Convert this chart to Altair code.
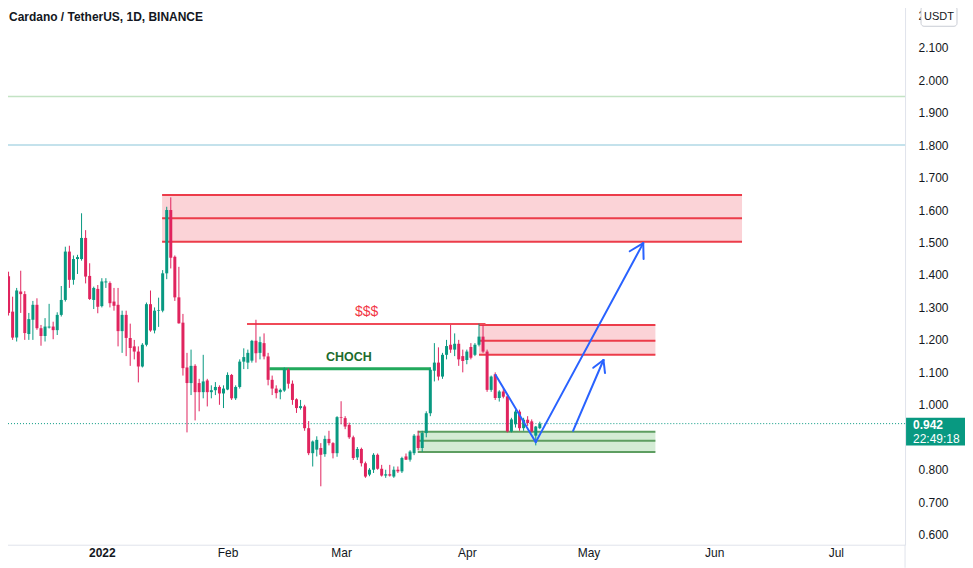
import altair as alt
import pandas as pd

# ---------------- data ----------------
start_date = "2021-12-09"
opens = [1.396, 1.287, 1.207, 1.349, 1.341, 1.218, 1.262, 1.308, 1.236, 1.212,
         1.238, 1.241, 1.230, 1.277, 1.323, 1.472, 1.385, 1.449, 1.449, 1.514,
         1.397, 1.323, 1.357, 1.304, 1.377, 1.375, 1.318, 1.308, 1.227, 1.277,
         1.206, 1.180, 1.164, 1.118, 1.185, 1.310, 1.229, 1.290, 1.290, 1.405,
         1.600, 1.456, 1.331, 1.253, 1.115, 1.067, 1.120, 1.067, 1.039, 1.075,
         1.039, 1.045, 1.055, 1.035, 1.047, 1.092, 1.020, 1.055, 1.133, 1.130,
         1.136, 1.197, 1.160, 1.190, 1.149, 1.077, 1.050, 1.039, 1.044, 1.108,
         1.065, 1.017, 0.990, 0.995, 0.928, 0.851, 0.862, 0.867, 0.848, 0.895,
         0.882, 0.851, 0.962, 0.959, 0.938, 0.900, 0.838, 0.864, 0.820, 0.785,
         0.800, 0.846, 0.803, 0.782, 0.786, 0.779, 0.800, 0.795, 0.841, 0.831,
         0.851, 0.905, 0.867, 0.913, 0.974, 1.105, 1.130, 1.087, 1.154, 1.185,
         1.170, 1.188, 1.150, 1.138, 1.178, 1.154, 1.185, 1.210, 1.164, 1.046,
         1.094, 1.021, 1.041, 1.026, 0.918, 0.940, 0.979, 0.928, 0.954, 0.949,
         0.905, 0.928]
highs = [1.410, 1.333, 1.360, 1.413, 1.350, 1.283, 1.320, 1.328, 1.246, 1.267,
         1.311, 1.256, 1.285, 1.366, 1.487, 1.490, 1.460, 1.462, 1.590, 1.538,
         1.436, 1.364, 1.369, 1.390, 1.390, 1.380, 1.360, 1.360, 1.290, 1.290,
         1.250, 1.200, 1.180, 1.190, 1.315, 1.352, 1.300, 1.330, 1.415, 1.610,
         1.639, 1.460, 1.425, 1.280, 1.160, 1.170, 1.125, 1.080, 1.154, 1.080,
         1.060, 1.070, 1.060, 1.060, 1.100, 1.095, 1.060, 1.140, 1.174, 1.170,
         1.200, 1.262, 1.210, 1.220, 1.160, 1.090, 1.060, 1.050, 1.115, 1.112,
         1.075, 1.020, 1.015, 1.000, 0.950, 0.890, 0.903, 0.882, 0.905, 0.920,
         0.885, 0.965, 1.011, 0.965, 0.945, 0.905, 0.870, 0.868, 0.825, 0.805,
         0.851, 0.850, 0.815, 0.800, 0.815, 0.810, 0.810, 0.840, 0.850, 0.860,
         0.910, 0.920, 0.920, 0.980, 1.115, 1.190, 1.177, 1.160, 1.200, 1.246,
         1.220, 1.200, 1.170, 1.170, 1.190, 1.190, 1.250, 1.246, 1.170, 1.090,
         1.100, 1.045, 1.050, 1.030, 0.960, 0.985, 0.985, 0.960, 0.965, 0.955,
         0.935, 0.948]
lows = [1.275, 1.200, 1.195, 1.283, 1.200, 1.200, 1.200, 1.231, 1.182, 1.195,
        1.235, 1.202, 1.215, 1.272, 1.318, 1.360, 1.370, 1.403, 1.444, 1.374,
        1.323, 1.295, 1.282, 1.300, 1.360, 1.300, 1.290, 1.180, 1.160, 1.150,
        1.120, 1.140, 1.069, 1.115, 1.180, 1.225, 1.220, 1.240, 1.285, 1.387,
        1.420, 1.320, 1.250, 1.090, 0.915, 1.030, 0.952, 0.980, 1.020, 0.995,
        1.020, 1.030, 1.000, 0.990, 1.045, 1.015, 1.015, 1.050, 1.110, 1.110,
        1.130, 1.130, 1.140, 1.140, 1.060, 1.030, 1.020, 1.017, 1.040, 1.050,
        1.000, 0.975, 0.985, 0.920, 0.845, 0.810, 0.841, 0.749, 0.840, 0.875,
        0.835, 0.840, 0.940, 0.925, 0.895, 0.830, 0.830, 0.810, 0.775, 0.780,
        0.790, 0.800, 0.779, 0.775, 0.779, 0.775, 0.790, 0.790, 0.830, 0.825,
        0.845, 0.860, 0.855, 0.900, 0.965, 1.072, 1.075, 1.080, 1.140, 1.160,
        1.150, 1.120, 1.100, 1.125, 1.140, 1.150, 1.180, 1.160, 1.040, 1.040,
        1.015, 1.010, 1.020, 0.915, 0.915, 0.930, 0.920, 0.920, 0.935, 0.915,
        0.875, 0.925]
closes = [1.283, 1.207, 1.352, 1.341, 1.221, 1.264, 1.308, 1.236, 1.212, 1.241,
          1.241, 1.230, 1.277, 1.323, 1.472, 1.385, 1.449, 1.455, 1.514, 1.395,
          1.326, 1.360, 1.302, 1.380, 1.380, 1.313, 1.305, 1.227, 1.277, 1.206,
          1.175, 1.164, 1.118, 1.185, 1.310, 1.229, 1.290, 1.292, 1.405, 1.600,
          1.453, 1.331, 1.251, 1.113, 1.067, 1.120, 1.039, 1.039, 1.072, 1.039,
          1.045, 1.055, 1.035, 1.050, 1.092, 1.020, 1.055, 1.133, 1.147, 1.160,
          1.197, 1.159, 1.193, 1.149, 1.077, 1.050, 1.036, 1.046, 1.108, 1.065,
          1.015, 0.990, 0.996, 0.928, 0.851, 0.887, 0.892, 0.846, 0.895, 0.882,
          0.851, 0.962, 0.960, 0.933, 0.900, 0.836, 0.864, 0.820, 0.779, 0.800,
          0.846, 0.803, 0.782, 0.786, 0.782, 0.800, 0.795, 0.836, 0.831, 0.856,
          0.905, 0.867, 0.913, 0.974, 1.108, 1.130, 1.087, 1.154, 1.181, 1.170,
          1.188, 1.140, 1.135, 1.164, 1.145, 1.185, 1.210, 1.164, 1.046, 1.087,
          1.021, 1.041, 1.025, 0.918, 0.955, 0.979, 0.928, 0.954, 0.944, 0.918,
          0.933, 0.942]

# time axis labels
month_dates = ["2022-01-01", "2022-02-01", "2022-03-01", "2022-04-01",
               "2022-05-01", "2022-06-01", "2022-07-01"]
month_labels = ["2022", "Feb", "Mar", "Apr", "May", "Jun", "Jul"]
# price axis labels (0.900 is hidden behind the last-price tag; 2.200 is cut to "2" by the unit tag)
price_ticks = [0.6, 0.7, 0.8, 1.0, 1.1, 1.2, 1.3, 1.4, 1.5, 1.6, 1.7,
               1.8, 1.9, 2.0, 2.1, 2.2]
top_tick_text = "2"

# visible range (days since start_date, price)
view_days = [-0.63, 219.83]
view_prices = [0.569, 2.246]

# zones (days since start, price levels)
zone_kind = ["red", "red", "green"]
zone_t0 = [37.86, 116.0, 100.9]
zone_t1 = [180.86, 159.5, 159.5]
zone_top = [1.646, 1.246, 0.917]
zone_mid = [1.575, 1.197, 0.889]
zone_bot = [1.502, 1.154, 0.855]

# full-width horizontal levels
level_prices = [1.95, 1.80]
level_colors = ["#c3e3c4", "#b0d8e6"]

# liquidity ($$$) and CHOCH lines
sss_t = [58.8, 117.6]
sss_p = 1.249
choch_t = [64.3, 104.1]
choch_p = 1.111
note_text = ["$$$", "CHOCH"]
note_t = [88.3, 83.9]
note_p = [1.286, 1.148]

# blue projection path segments (t0, p0, t1, p1)
path_t0 = [120.1, 130.0, 156.5, 156.5, 139.2, 146.7, 146.7]
path_p0 = [1.092, 0.885, 1.498, 1.498, 0.920, 1.138, 1.138]
path_t1 = [130.0, 156.5, 153.16, 156.59, 146.7, 144.17, 147.07]
path_p1 = [0.885, 1.498, 1.473, 1.449, 1.138, 1.114, 1.098]

last_price = 0.942
countdown = "22:49:18"
title_text = "Cardano / TetherUS, 1D, BINANCE"

# ---------------- tables ----------------
t_start = pd.Timestamp(start_date)
dates = pd.date_range(start_date, periods=len(opens), freq="D")
candles = pd.DataFrame({
    "t": [(d - t_start).days for d in dates],
    "o": opens, "h": highs, "l": lows, "c": closes,
})
candles["dir"] = ["up" if c >= o else "down" for o, c in zip(opens, closes)]

month_t = [(pd.Timestamp(d) - t_start).days for d in month_dates]
label_expr = " : ".join(f"datum.value == {t} ? '{lab}'" for t, lab in zip(month_t, month_labels)) + " : ''"
price_expr = f"datum.value > {price_ticks[-1] - 0.05} ? '{top_tick_text}' : format(datum.value, '.3f')"

RED_FILL, GREEN_FILL = "#fbd3d7", "#d4ecd5"
RED_LINE, GREEN_LINE = "#ec3c4a", "#5e9e61"
UP, DOWN = "#089981", "#e0245e"

zones = pd.DataFrame({
    "t0": zone_t0, "t1": zone_t1, "top": zone_top, "bot": zone_bot,
    "fill": [RED_FILL if k == "red" else GREEN_FILL for k in zone_kind],
})
zone_lines = pd.DataFrame([
    {"t0": a, "t1": b, "p": p, "col": RED_LINE if k == "red" else GREEN_LINE}
    for k, a, b, tp, md, bt in zip(zone_kind, zone_t0, zone_t1, zone_top, zone_mid, zone_bot)
    for p in (tp, md, bt)
])
levels = pd.DataFrame({"p": level_prices, "col": level_colors})
sss = pd.DataFrame({"t0": [sss_t[0]], "t1": [sss_t[1]], "p": [sss_p]})
choch = pd.DataFrame({"t0": [choch_t[0]], "t1": [choch_t[1]], "p": [choch_p]})
notes = pd.DataFrame({"label": note_text, "t": note_t, "p": note_p})
path = pd.DataFrame({"t0": path_t0, "p0": path_p0, "t1": path_t1, "p1": path_p1})
last = pd.DataFrame({"p": [last_price], "price": [f"{last_price:.3f}"], "cd": [countdown]})
title_df = pd.DataFrame({"label": [title_text]})
unit_df = pd.DataFrame({"label": ["USDT"]})

# ---------------- scales / axes ----------------
xs = alt.Scale(domain=view_days, nice=False, zero=False)
ys = alt.Scale(domain=view_prices, nice=False, zero=False)
AX_FONT = "Liberation Sans"
x_axis = alt.Axis(values=month_t, labelExpr=label_expr, title=None, ticks=False,
                  grid=False, domainColor="#e0e3eb", labelColor="#131722",
                  labelFont=AX_FONT, labelFontSize=12, labelPadding=3,
                  labelFontWeight={"condition": {"test": f"datum.value == {month_t[0]}",
                                                 "value": "bold"}, "value": "normal"})
y_axis = alt.Axis(values=price_ticks, labelExpr=price_expr, title=None, ticks=False,
                  grid=False, orient="right", domainColor="#e0e3eb",
                  labelColor="#131722", labelFont=AX_FONT, labelFontSize=12,
                  labelPadding=13, labelAlign="left")


def X(f):
    return alt.X(f, type="quantitative", scale=xs, axis=x_axis)


def Y(f):
    return alt.Y(f, type="quantitative", scale=ys, axis=y_axis)


dir_color = alt.Color("dir:N", scale=alt.Scale(domain=["up", "down"], range=[UP, DOWN]), legend=None)

zone_fill = alt.Chart(zones).mark_rect().encode(
    x=X("t0"), x2="t1", y=Y("top"), y2="bot", fill=alt.Fill("fill:N", scale=None))
zone_rules = alt.Chart(zone_lines).mark_rule(strokeWidth=2).encode(
    x=X("t0"), x2="t1", y=Y("p"), color=alt.Color("col:N", scale=None))
level_rules = alt.Chart(levels).mark_rule(strokeWidth=1.5).encode(
    y=Y("p"), color=alt.Color("col:N", scale=None))
sss_rule = alt.Chart(sss).mark_rule(strokeWidth=2, color="#f04a57").encode(
    x=X("t0"), x2="t1", y=Y("p"))
choch_rule = alt.Chart(choch).mark_rule(strokeWidth=3, color="#22a95c").encode(
    x=X("t0"), x2="t1", y=Y("p"))
price_line = alt.Chart(last).mark_rule(strokeDash=[1, 2], strokeWidth=1, color=UP).encode(
    y=Y("p"))
wicks = alt.Chart(candles).mark_rule(strokeWidth=1).encode(
    x=X("t"), y=Y("l"), y2="h", color=dir_color)
bodies = alt.Chart(candles).mark_bar(width=3).encode(
    x=X("t"), y=Y("o"), y2="c", color=dir_color)
path_rules = alt.Chart(path).mark_rule(strokeWidth=2, color="#2962ff", strokeCap="round").encode(
    x=X("t0"), x2="t1", y=Y("p0"), y2="p1")
sss_text = alt.Chart(notes).transform_filter(f"datum.label == '{note_text[0]}'").mark_text(
    font=AX_FONT, fontSize=14, color="#f23645", baseline="middle", align="center").encode(
    x=X("t"), y=Y("p"), text="label:N")
choch_text = alt.Chart(notes).transform_filter(f"datum.label == '{note_text[1]}'").mark_text(
    font=AX_FONT, fontSize=12.5, fontWeight="bold", color="#1d6b2c", baseline="middle",
    align="center").encode(x=X("t"), y=Y("p"), text="label:N")
title_mark = alt.Chart(title_df).mark_text(
    font=AX_FONT, fontSize=12, fontWeight="bold", color="#131722", align="left",
    baseline="alphabetic").encode(x=alt.value(8), y=alt.value(21), text="label:N")
axis_tail = alt.Chart(title_df).mark_rule(color="#e0e3eb", strokeWidth=1).encode(
    x=alt.value(905), y=alt.value(545), y2=alt.value(568))

price_box = alt.Chart(last).mark_rect(color=UP, yOffset=-6, y2Offset=22).encode(
    x=alt.value(906), x2=alt.value(965), y=Y("p"), y2="p")
price_txt = alt.Chart(last).mark_text(
    font=AX_FONT, fontSize=12, fontWeight="bold", color="white", align="left",
    baseline="middle", dy=1).encode(x=alt.value(913), y=Y("p"), text="price:N")
cd_txt = alt.Chart(last).mark_text(
    font=AX_FONT, fontSize=12, color="white", align="left",
    baseline="middle", dy=15).encode(x=alt.value(913), y=Y("p"), text="cd:N")
unit_box = alt.Chart(unit_df).mark_rect(fill="white", stroke="#c9ccd4", strokeWidth=1,
                                        cornerRadius=3).encode(
    x=alt.value(921), x2=alt.value(957), y=alt.value(6), y2=alt.value(26))
unit_txt = alt.Chart(unit_df).mark_text(
    font=AX_FONT, fontSize=11, color="#131722", align="center", baseline="middle").encode(
    x=alt.value(939), y=alt.value(16.5), text="label:N")

chart = alt.layer(
    zone_fill, zone_rules, level_rules, sss_rule, choch_rule, price_line,
    wicks, bodies, path_rules, sss_text, choch_text, title_mark, axis_tail,
    price_box, price_txt, cd_txt, unit_box, unit_txt,
).properties(
    width=905, height=545,
    padding={"left": -8, "top": -8, "right": 0, "bottom": 0},
    background="white",
).configure_view(stroke=None)

chart.save("out.html", embed_options={"renderer": "svg", "actions": False})
